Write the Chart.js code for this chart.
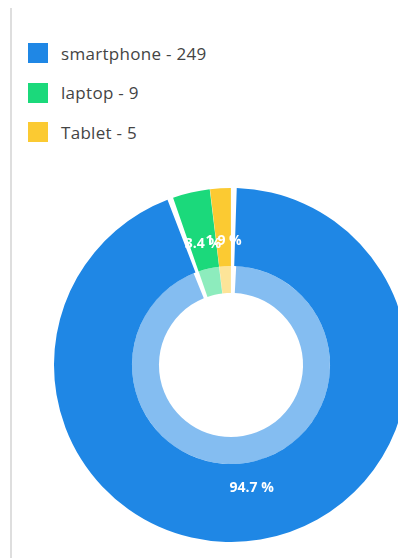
<!DOCTYPE html>
<html>
<head>
<meta charset="utf-8">
<script src="https://cdn.jsdelivr.net/npm/chart.js@4.4.0/dist/chart.umd.min.js"></script>
<style>
    html, body { margin: 0; padding: 0; background: #fff; width: 398px; height: 558px; overflow: hidden; }
    .card { position: absolute; left: 10px; top: 8px; bottom: 0; width: 420px; border-left: 2px solid #dedede; }
    #legend { position: absolute; left: 28px; top: 43px; font-family: "Open Sans", sans-serif; font-size: 17px; letter-spacing: 0.3px; color: #444; }
    .item { display: flex; align-items: center; height: 20px; margin-bottom: 19.5px; }
    .swatch { width: 20px; height: 20px; margin-right: 13px; }
    .chart-box { position: absolute; left: 54px; top: 188px; width: 354px; height: 354px; }
</style>
</head>
<body>
<div class="card"></div>
<div id="legend"></div>
<div class="chart-box"><canvas id="deviceChart"></canvas></div>
<script>
    var labels = ['smartphone', 'laptop', 'Tablet'];
    var values = [249, 9, 5];
    var colors = ['#1f87e5', '#1bd97b', '#fbca32'];
    var lightColors = ['rgba(31, 135, 229, 0.55)', 'rgba(27, 217, 123, 0.5)', 'rgba(251, 202, 50, 0.5)'];

    var total = values.reduce(function (a, b) { return a + b; }, 0);
    function pct(i) {
        return (values[i] / total * 100).toFixed(1) + ' %';
    }

    // legende em html: "nome - valor"
    var legend = document.getElementById('legend');
    labels.forEach(function (label, i) {
        var row = document.createElement('div');
        row.className = 'item';
        row.innerHTML = '<span class="swatch" style="background:' + colors[i] + '"></span>' + label + ' - ' + values[i];
        legend.appendChild(row);
    });

    // percentual no meio do anel
    var percentLabels = {
        id: 'percentLabels',
        afterDatasetsDraw: function (chart) {
            var outer = chart.getDatasetMeta(0);
            var inner = chart.getDatasetMeta(1);
            var ctx = chart.ctx;
            ctx.save();
            ctx.font = 'bold 14px "Open Sans"';
            ctx.fillStyle = '#fff';
            ctx.textAlign = 'center';
            ctx.textBaseline = 'middle';
            outer.data.forEach(function (arc, i) {
                var mid = (arc.startAngle + arc.endAngle) / 2;
                var r = (arc.outerRadius + inner.data[i].innerRadius) / 2 + 1.5;
                ctx.fillText(pct(i), arc.x + Math.cos(mid) * r, arc.y + Math.sin(mid) * r);
            });
            ctx.restore();
        }
    };

    var ctx = document.getElementById('deviceChart').getContext('2d');
    var myChart = new Chart(ctx, {
        type: 'doughnut',
        data: {
            labels: labels,
            datasets: [{
                data: values,
                backgroundColor: colors,
                borderWidth: 0,
                spacing: 3,
                weight: 78
            }, {
                data: values,
                backgroundColor: lightColors,
                borderWidth: 0,
                spacing: 3,
                weight: 27
            }]
        },
        options: {
            responsive: true,
            maintainAspectRatio: false,
            animation: false,
            cutout: '40.2%',
            layout: { padding: 0 },
            plugins: {
                legend: { display: false },
                tooltip: { enabled: false }
            }
        },
        plugins: [percentLabels]
    });
</script>
</body>
</html>
